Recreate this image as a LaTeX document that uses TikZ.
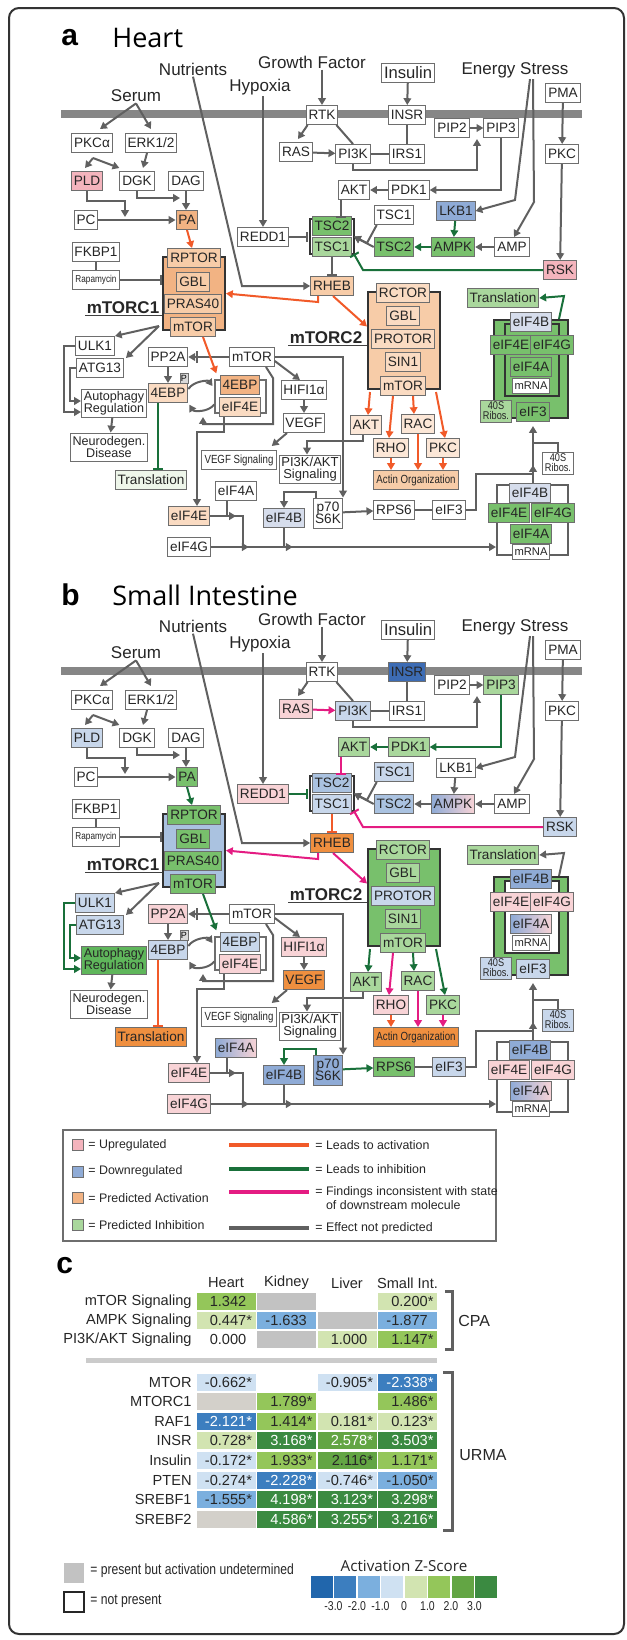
\documentclass[tikz,border=0pt]{standalone}
\usepackage{fontspec}
\setmainfont{Liberation Sans}
\newfontfamily\titlefont{Open Sans}
\newfontfamily\narrowfont{Liberation Sans}[FakeStretch=0.82]
\usetikzlibrary{arrows.meta,calc}
% node fills
\definecolor{upA}{HTML}{F4B4BD}
\definecolor{upL}{HTML}{F8D3D6}
\definecolor{dnD}{HTML}{3D6CB4}
\definecolor{dnM}{HTML}{8FABD6}
\definecolor{dnLM}{HTML}{AAC2E0}
\definecolor{dnL}{HTML}{C8D7EB}
\definecolor{gbl}{HTML}{D6DDEC}
\definecolor{acD}{HTML}{EF8F3F}
\definecolor{acM}{HTML}{F2B383}
\definecolor{acL}{HTML}{F7CCA8}
\definecolor{acLL}{HTML}{FADBC2}
\definecolor{acLLL}{HTML}{FCE7D7}
\definecolor{inD}{HTML}{5FB65B}
\definecolor{inM}{HTML}{78C06C}
\definecolor{inL}{HTML}{A9D79C}
\definecolor{inLL}{HTML}{EEF6EA}
% connectors
\definecolor{lnorange}{HTML}{F15A29}
\definecolor{lngreen}{HTML}{19703A}
\definecolor{lnpink}{HTML}{E41C82}
\definecolor{lngray}{HTML}{606060}
\definecolor{boxgray}{HTML}{6E6E6E}
\definecolor{membr}{HTML}{868686}
% z-score scale
\definecolor{zmthree}{HTML}{2166AC}
\definecolor{zmtwo}{HTML}{3C7EBF}
\definecolor{zmone}{HTML}{7BAFDE}
\definecolor{zzero}{HTML}{CFE1F2}
\definecolor{zone}{HTML}{D2E4B1}
\definecolor{ztwo}{HTML}{94C65A}
\definecolor{zthree}{HTML}{63A544}
\definecolor{zfour}{HTML}{3B8A41}
\definecolor{ndet}{HTML}{C2C2C2}
\definecolor{ndetb}{HTML}{D3D0CA}

\begin{document}
\begin{tikzpicture}[
	x = 0.5pt, y = -0.5pt,
	ab/.code 2 args = {\ifnum\panel=1\relax\pgfkeysalso{#1}\else\pgfkeysalso{#2}\fi},
	box/.style = {draw = boxgray, line width = 0.5pt, fill = white, text = black!85,
		inner xsep = 1.2pt, inner ysep = 0.6pt, minimum height = 9.5pt,
		font = \fontsize{6.8}{6.6}\selectfont},
	sbox/.style = {box, inner xsep = 1.4pt, font = \narrowfont\fontsize{5.9}{6}\selectfont},
	tbox/.style = {box, align = center, minimum height = 14pt, font = \fontsize{6.3}{6.2}\selectfont},
	mbox/.style = {box, minimum height = 7.5pt, inner ysep = 0pt, font = \fontsize{5.6}{6}\selectfont},
	rbox/.style = {box, align = center, minimum height = 11pt, inner xsep = 1pt, inner ysep = 0.3pt,
		font = \narrowfont\fontsize{5.6}{5}\selectfont},
	pbox/.style = {draw = boxgray, fill = gray!30, line width = 0.4pt, inner sep = 0pt,
		minimum width = 4pt, minimum height = 5pt, font = \fontsize{4.5}{5}\selectfont},
	cplx/.style = {rectangle, draw = black!80, line width = 1pt, inner sep = 0pt},
	brk/.style = {line width = 1.1pt, draw = black!80},
	lbl/.style = {inner sep = 0.5pt, text = black!85, font = \fontsize{8.5}{9}\selectfont},
	clbl/.style = {inner sep = 0.5pt, text = black!85, font = \bfseries\fontsize{8.5}{9}\selectfont},
	ul/.style = {line width = 0.8pt, draw = black!75},
	ttl/.style = {inner sep = 0pt, font = \titlefont\fontsize{13.5}{14}\selectfont},
	tagf/.style = {inner sep = 0pt, font = \bfseries\fontsize{15}{16}\selectfont},
	membrane/.style = {line width = 4pt, draw = membr},
	% fills
	fuA/.style = {fill = upA}, fuL/.style = {fill = upL},
	fdD/.style = {fill = dnD}, fdM/.style = {fill = dnM}, fdLM/.style = {fill = dnLM}, fdL/.style = {fill = dnL},
	fgb/.style = {fill = gbl}, fgr/.style = {left color = dnM, right color = upL},
	faD/.style = {fill = acD}, faM/.style = {fill = acM}, faL/.style = {fill = acL},
	faLL/.style = {fill = acLL}, faLLL/.style = {fill = acLLL},
	fiD/.style = {fill = inD}, fiM/.style = {fill = inM}, fiL/.style = {fill = inL}, fiLL/.style = {fill = inLL},
	% connectors
	ln/.style = {draw = lngray, line width = 1pt},
	arr/.style = {ln, -{Triangle[length = 3.4pt, width = 3.8pt]}},
	inh/.style = {ln, -{Bar[width = 5pt]}},
	cA/.style = {draw = lnorange}, cI/.style = {draw = lngreen}, cF/.style = {draw = lnpink},
	% legend and table
	ltxt/.style = {inner sep = 0.5pt, text = black!85, align = left, font = \fontsize{6.2}{7}\selectfont},
	lsq/.style = {draw = boxgray, line width = 0.5pt, minimum size = 5.5pt, inner sep = 0pt},
	ctxt/.style = {inner sep = 0.5pt, text = black!85, font = \fontsize{7.3}{8}\selectfont},
	cell/.style = {minimum width = 29.5pt, minimum height = 8.5pt, inner xsep = 1.75pt, inner ysep = 0pt,
		text width = 26pt, align = right, text = black!85, font = \fontsize{7.3}{8}\selectfont},
	zm2/.style = {fill = zmtwo, text = white}, zm1/.style = {fill = zmone}, z0/.style = {fill = zzero},
	z1/.style = {fill = zone}, z2/.style = {fill = ztwo}, z3/.style = {fill = zthree},
	z3w/.style = {fill = zthree, text = white}, z4/.style = {fill = zfour, text = white},
	zn/.style = {fill = ndet}, zb/.style = {fill = ndetb}, zw/.style = {},
	frame/.style = {draw = black!80, line width = 1pt, rounded corners = 5pt}
	]
	\useasboundingbox (0,0) rectangle (627,1640);
	\draw[frame] (9,8) rectangle (624,1634);
	
	\foreach \panel/\dy/\ttl/\plbl in {1/0/Heart/a, 2/557/Small Intestine/b}{
	\begin{scope}[shift = {(0,\dy)}, name prefix = p\panel-]
	\node[tagf, anchor = west] (tag) at (61,38) {\plbl};
	\node[ttl, anchor = west] (title) at (112,38) {\ttl};
	\draw[membrane] (61,114) -- (582,114);
	
	% inputs
	\node[lbl] (Nutr) at (193,69) {Nutrients};
	\node[lbl] (GF) at (312,62) {Growth Factor};
	\node[lbl] (Hyp) at (260,87) {Hypoxia};
	\node[lbl] (Serum) at (136,96) {Serum};
	\node[lbl] (ES) at (515,70) {Energy Stress};
	\node[box, font = \fontsize{8.3}{9}\selectfont] (Ins) at (408,73) {Insulin};
	\node[box] (PMA) at (563,93) {PMA};
	
	% upstream
	\node[box] (RTK) at (322,115) {RTK};
	\node[box, ab = {}{fdD}] (INSR) at (407,115) {INSR};
	\node[box] (PIP2) at (452,128) {PIP2};
	\node[box, ab = {}{fiL}] (PIP3) at (501,128) {PIP3};
	\node[box, ab = {}{fuL}] (RAS) at (296,152) {RAS};
	\node[box, ab = {}{fdL}] (PI3K) at (353,154) {PI3K};
	\node[box] (IRS1) at (407,154) {IRS1};
	\node[box] (PKC) at (562,154) {PKC};
	\node[box] (PKCa) at (92,143) {PKCα};
	\node[box] (ERK) at (151,143) {ERK1/2};
	\node[box, ab = {fuA}{fdL}] (PLD) at (87,181) {PLD};
	\node[box] (DGK) at (137,181) {DGK};
	\node[box] (DAG) at (186,181) {DAG};
	\node[box] (PC) at (86,220) {PC};
	\node[box, ab = {faM}{fiM}] (PA) at (187,220) {PA};
	\node[box] (FKBP1) at (96,252) {FKBP1};
	\node[sbox, font = \narrowfont\fontsize{5}{6}\selectfont] (Rapa) at (96,280) {Rapamycin};
	\node[box, ab = {}{fuL}] (REDD1) at (263,237) {REDD1};
	
	% TSC complex
	\node[inner sep = 0pt, minimum width = 21.5pt, minimum height = 17pt] (TSCc) at (332,236.5) {};
	\draw[brk] ([xshift = 2pt]TSCc.north west) -- (TSCc.north west) -- (TSCc.south west) -- ++(2pt,0);
	\draw[brk] ([xshift = -2pt]TSCc.north east) -- (TSCc.north east) -- (TSCc.south east) -- ++(-2pt,0);
	\node[box, ab = {fiM}{fdLM}] (cTSC2) at (332,226) {TSC2};
	\node[box, ab = {fiL}{fdL}] (cTSC1) at (332,247) {TSC1};
	
	\node[box, ab = {}{fiL}] (AKT) at (354,190) {AKT};
	\node[box, ab = {}{fiL}] (PDK1) at (409,190) {PDK1};
	\node[box, ab = {}{fdL}] (TSC1s) at (394,215) {TSC1};
	\node[box, ab = {fdM}{}] (LKB1) at (456,211) {LKB1};
	\node[box, ab = {fiM}{fdLM}] (TSC2s) at (394,247) {TSC2};
	\node[box, ab = {fiM}{fgr}] (AMPK) at (453,247) {AMPK};
	\node[box] (AMP) at (512,247) {AMP};
	\node[box, ab = {fuA}{fdL}] (RSK) at (560,270) {RSK};
	\node[box, ab = {faL}{faD}] (RHEB) at (332,286) {RHEB};
	
	% mTORC1
	\node[cplx, ab = {faM}{fdLM}, minimum width = 31pt, minimum height = 36.5pt] (C1) at (194,293.5) {};
	\node[box, ab = {faL}{fiM}] (RPTOR) at (194,258) {RPTOR};
	\node[box, ab = {faL}{fiM}] (GBL1) at (193,282) {GBL};
	\node[box, ab = {faL}{fiM}] (PRAS40) at (193,304) {PRAS40};
	\node[box, ab = {faL}{fiM}] (mTOR1) at (193,327) {mTOR};
	\node[clbl] (C1lbl) at (123,308) {mTORC1};
	\draw[ul] (C1lbl.south west) -- (C1lbl.south west -| C1.west);
	
	% mTORC2
	\node[cplx, ab = {faL}{fiM}, minimum width = 36pt, minimum height = 48.5pt] (C2) at (404,340.5) {};
	\node[box, ab = {faLL}{fiL}] (RCTOR) at (403,293) {RCTOR};
	\node[box, ab = {faLL}{fiL}] (GBL2) at (403,316) {GBL};
	\node[box, ab = {faLL}{fdL}] (PROTOR) at (403,339) {PROTOR};
	\node[box, ab = {faLL}{fiL}] (SIN1) at (403,362) {SIN1};
	\node[box, ab = {faLL}{fiL}] (mTOR2) at (403,386) {mTOR};
	\node[clbl] (C2lbl) at (326,338) {mTORC2};
	\draw[ul] (C2lbl.south west) -- (C2lbl.south west -| C2.west);
	
	% translation complex, top right
	\node[box, fiL] (TransR) at (503,298) {Translation};
	\node[cplx, fiM, minimum width = 37pt, minimum height = 49pt] (OC) at (531,369) {};
	\node[cplx, line width = 1.3pt, ab = {fiM}{fill = white}, minimum width = 27pt, minimum height = 36pt] (IC) at (532,360) {};
	\node[box, ab = {fgb}{fdM}] (tB) at (531,322) {eIF4B};
	\node[box, ab = {fiM}{fuL}] (tE) at (511,345) {eIF4E};
	\node[box, ab = {fiM}{fuL}] (tG) at (552,345) {eIF4G};
	\node[box, ab = {fiM}{fgr}] (tA) at (531,367) {eIF4A};
	\node[mbox] (tm) at (531,386) {mRNA};
	\node[rbox, ab = {fiL}{fdL}] (tR) at (496,411) {40S\\Ribos.};
	\node[box, ab = {fiM}{fdL}] (t3) at (533,412) {eIF3};
	
	% mTORC2 targets
	\node[box, ab = {faLLL}{fiL}] (AKT2) at (366,425) {AKT};
	\node[box, ab = {faLLL}{fiL}] (RAC) at (418,424) {RAC};
	\node[box, ab = {faLLL}{fuL}] (RHO) at (391,448) {RHO};
	\node[box, ab = {faLLL}{fiL}] (PKC2) at (443,448) {PKC};
	\node[sbox, ab = {faL}{faD}] (Actin) at (416,480) {Actin Organization};
	
	% lower right
	\node[rbox, ab = {}{fdL}] (Rib2) at (558,463) {40S\\Ribos.};
	\node[box, ab = {}{fiM}] (RPS6) at (394,510) {RPS6};
	\node[box, ab = {}{fdL}] (eIF3) at (449,510) {eIF3};
	\node[tbox, font = \fontsize{6.8}{6.3}\selectfont, minimum height = 15pt, inner xsep = 0.8pt, ab = {}{fdM}] (p70) at (328,513) {p70\\S6K};
	\node[cplx, draw = lngray, minimum width = 35.5pt, minimum height = 35pt] (LC) at (532.5,520) {};
	\node[box, ab = {fgb}{fdM}] (lB) at (530,493) {eIF4B};
	\node[box, ab = {fiM}{fuL}] (lE) at (509,513) {eIF4E};
	\node[box, ab = {fiM}{fuL}] (lG) at (553,513) {eIF4G};
	\node[box, ab = {fiM}{fgr}] (lA) at (531,534) {eIF4A};
	\node[mbox] (lm) at (531,552) {mRNA};
	
	% left side
	\node[box, ab = {}{fdL}] (ULK1) at (95,346) {ULK1};
	\node[box, ab = {}{fdL}] (ATG13) at (100,368) {ATG13};
	\node[tbox, ab = {}{fiD}] (Auto) at (114,403) {Autophagy\\Regulation};
	\node[tbox] (Neuro) at (109,447) {Neurodegen.\\Disease};
	\node[box, ab = {}{fuL}] (PP2A) at (168,357) {PP2A};
	\node[box, ab = {faLL}{fdL}] (EBP) at (168,393) {4EBP};
	\node[pbox] (Pm) at (184,378) {P};
	\node[cplx, draw = boxgray, line width = 0.7pt, fill = white, minimum width = 25.5pt, minimum height = 16.5pt] (cfr) at (240.5,396.5) {};
	\node[box, ab = {faM}{fdL}] (cEBP) at (240,385) {4EBP};
	\node[box, ab = {faLL}{fuL}] (cEIFE) at (240,407) {eIF4E};
	\node[box] (mTORm) at (252,357) {mTOR};
	\node[box, ab = {}{fuL}] (HIF) at (304,390) {HIFI1α};
	\node[box, ab = {}{faD}] (VEGF) at (304,423) {VEGF};
	\node[sbox] (VEGFsig) at (239,460) {VEGF Signaling};
	\node[tbox, font = \fontsize{6.5}{6.3}\selectfont, inner xsep = 0.8pt] (PIAKT) at (310,469) {PI3K/AKT\\Signaling};
	\node[box, ab = {fiLL}{faD}] (TransL) at (151,480) {Translation};
	\node[box, ab = {}{fgr}] (eIFA) at (236,491) {eIF4A};
	\node[box, ab = {faLL}{fuL}] (eIFE) at (189,516) {eIF4E};
	\node[box, ab = {fgb}{fdM}] (eIFB) at (284,518) {eIF4B};
	\node[box, ab = {}{fuL}] (eIFG) at (189,547) {eIF4G};
	
	% connectors, serum branch
	\draw[arr] (Serum.south) -- ([shift = {(4pt,2pt)}]PKCa.north);
	\draw[arr] (Serum.south) -- ([yshift = 2pt]ERK.north);
	\draw[arr] (PKCa.south) ++(1,5) -- ([shift = {(-1pt,1.5pt)}]PLD.north);
	\draw[arr] (PKCa.south) ++(1,5) -- ([yshift = 1.5pt]DGK.north west);
	\draw[arr] ([xshift = -2pt]ERK.south) -- ([shift = {(3pt,1.5pt)}]DGK.north);
	\coordinate (jPC) at (125,217);
	\draw[arr] (PLD.south) |- (125,201) -- (jPC);
	\draw[arr] (PC) -- (PA);
	\coordinate (jDA) at (180,198);
	\draw[arr] (DGK.south) |- (jDA);
	\draw[arr] (DAG.south) -- (DAG.south |- PA.north);
	\draw[arr, ab = {cA}{cI}] (PA.south) -- ([xshift = -1pt]RPTOR.north);
	\draw[ln] (FKBP1) -- (Rapa);
	\draw[inh] (Rapa) -- (Rapa -| C1.west);
	
	% growth factor, insulin, hypoxia
	\draw[arr] (Nutr.south) -- (242,286) -- (RHEB.west);
	\draw[arr] (Hyp.south -| REDD1.north) -- (REDD1.north);
	\draw[inh, ab = {}{cI}, shorten > = 1pt] (REDD1) -- (REDD1 -| TSCc.west);
	\draw[arr] (GF.south -| RTK.north) -- (RTK.north);
	\draw[arr] (Ins) -- (INSR);
	\draw[arr] ([xshift = 1pt]RTK.south west) -- ([shift = {(1pt,1.5pt)}]RAS.north);
	\draw[ln] ([xshift = -1pt]RTK.south east) -- (PI3K.north);
	\draw[arr, ab = {}{cF}] (RAS) -- (PI3K);
	\draw[ln] (INSR) -- (IRS1);
	\draw[ln] (PI3K) -- (IRS1);
	\draw[arr] (PIP2) -- (PIP3);
	\coordinate (jPIP) at (477,139);
	\draw[arr] (PI3K.south) |- (477,170) -- (jPIP);
	\draw[arr, ab = {}{cI}] (PIP3.south) |- (PDK1.east);
	\draw[arr, ab = {}{cI}] (PDK1) -- (AKT);
	\draw[inh, ab = {}{cF}] (AKT.south) ++(-13,0) -- ++(0,18);
	
	% TSC inputs
	\draw[arr] (TSC1s.south west) ++(3,0) -- (367,243) -- (TSCc.east);
	\draw[arr] (TSC2s.west) -- (TSCc.east);
	\draw[arr, ab = {cI}{}] (AMPK) -- (TSC2s);
	\draw[arr, ab = {cI}{}] (LKB1) -- (AMPK);
	\draw[arr] (AMP) -- (AMPK);
	\draw[arr] ([xshift = 7.5pt]ES.south) -- (515,200) -- (LKB1.east);
	\draw[arr] ([xshift = 9pt]ES.south) -- (534,202) -- ([xshift = 1pt]AMP.north);
	\draw[arr] (PMA) -- (PKC);
	\draw[arr] (PKC) -- (RSK);
	\draw[inh, ab = {cI}{cF}] (RSK.west) -- (363,270) -- (TSCc.south east);
	\draw[inh, ab = {}{cA}] (cTSC1.south) -- (RHEB.north);
	\draw[arr, ab = {cA}{cF}] ([xshift = -7pt]RHEB.south) -- ++(0,6) -- (C1.east);
	\draw[arr, ab = {cA}{cF}] ([xshift = 0.5pt]RHEB.south) -- ([yshift = 7pt]C2.west);
	
	% mTORC1 targets
	\draw[arr] (C1.south west) ++(-3,-5) -- (ULK1.north east);
	\draw[arr] (C1.south west) ++(-3,-5) -- ([xshift = 1pt]ATG13.north east);
	\draw[arr, ab = {}{cI}] (ULK1.west) -- ++(-11,0) |- ([yshift = -4.5pt]Auto.west);
	\draw[arr, ab = {}{cI}] (ATG13.west) -- ++(-6,0) |- ([yshift = 1pt]Auto.west);
	\draw[arr] (Auto) -- (Neuro);
	\draw[ln, -{Bar[width = 6pt, sep = 0.3pt]Triangle[length = 3.4pt, width = 3.8pt]}] (mTORm) -- (PP2A);
	\draw[arr] (PP2A) -- (EBP);
	\draw[arr, ab = {cA}{cI}] ([xshift = 5pt]mTOR1.south) -- ([shift = {(1pt,3pt)}]cfr.north west);
	\draw[arr, shorten > = 1.5pt] ([yshift = 2pt]EBP.east) to[bend left = 55] ([yshift = 4pt]cfr.west);
	\draw[arr, shorten > = 1pt] ([yshift = -4pt]cfr.west) to[bend left = 55] ([yshift = -5pt]EBP.east);
	\draw[inh, ab = {cI}{cA}] (EBP.south) ++(-10,0) -- ++(0,67);
	\coordinate (jCX) at (203,417);
	\draw[arr] ([xshift = 7pt]mTORm.south) -- (273,378) -- (273,424) -| (jCX);
	\draw[arr] ([xshift = -8pt]cEIFE.south) -- ++(0,15) -| ([xshift = 4pt]eIFE.north);
	\draw[arr] ([yshift = -2pt]mTORm.east) -- ([xshift = -2pt]HIF.north);
	\draw[arr] (mTORm.east) -| ([xshift = 7.5pt]p70.north);
	\draw[arr] (HIF) -- (VEGF);
	\draw[arr] ([xshift = -8.5pt]VEGF.south) -- ([shift = {(-2.5pt,2pt)}]VEGFsig.north east);
	
	% mTORC2 targets
	\draw[arr] ([xshift = -1.5pt]AKT2.south) -- ++(0,6) -| ([xshift = -1.5pt]PIAKT.north);
	\draw[arr, ab = {cA}{cI}] (C2.south west) ++(3,2) -- ([xshift = 1pt]AKT2.north);
	\draw[arr, ab = {cA}{cF}] ([xshift = -5pt]mTOR2.south) -- ([xshift = -1pt]RHO.north);
	\draw[arr, ab = {cA}{cI}] ([xshift = 5pt]mTOR2.south) -- ([xshift = -2pt]RAC.north);
	\draw[arr, ab = {cA}{cI}] (C2.south east) ++(-5,2) -- ([xshift = 1pt]PKC2.north);
	\draw[arr, cA] (RHO) -- (RHO |- Actin.north);
	\draw[arr, ab = {cA}{cF}] (RAC) -- (RAC |- Actin.north);
	\draw[arr, ab = {cA}{cF}] (PKC2) -- (PKC2 |- Actin.north);
	
	% initiation factors
	\coordinate (jG) at (243,547);
	\draw[ln] (eIFE.east) -| (jG);
	\draw[arr] (eIFE.east) -- ++(26,0);
	\draw[ln] (eIFA.south) ++(-9,0) -- ++(0,16);
	\draw[arr] (eIFG.east) -- (LC.west |- eIFG.east);
	\draw[arr] (eIFG.east) -- ++(38,0);
	\draw[arr] (eIFG.east) -- ++(82,0);
	\draw[ln] (eIFB.south) -- (eIFB.south |- eIFG.east);
	\draw[arr, ab = {}{cI}] ([xshift = -6pt]p70.north) -- ++(0,-6) -| (eIFB.north);
	\draw[arr, ab = {}{cI}] (p70) -- (RPS6);
	\draw[ln] (RPS6) -- (eIF3);
	\draw[ln] (eIF3.east) -- ++(10,0) |- ($(lB.north -| t3.south)+(0,-9)$);
	\draw[arr] (lB.north -| t3.south) -- ++(0,-18);
	\draw[arr, shorten > = 2pt] (lB.north -| t3.south) -- (t3.south);
	\draw[ln] (Rib2.north) |- ($(t3.south)+(0,21)$);
	\draw[arr, ab = {cI}{}] ([xshift = -5pt]OC.north east) -- ++(5,-23) -- (TransR.east);
	\end{scope}
	}
	
	% legend
	\node[draw = boxgray, line width = 0.6pt, minimum width = 216.5pt, minimum height = 55.5pt] (legend) at (279.5,1185.5) {};
	\foreach \f/\t [count = \i from 0] in {fuA/Upregulated, fdM/Downregulated, faM/Predicted Activation, fiL/Predicted Inhibition}{
		\node[lsq, \f] (sq\i) at (78,{1145+26.7*\i}) {};
		\node[ltxt, anchor = west] (sqt\i) at (87,{1145+26.7*\i}) {= \t};
	}
	\foreach \c/\ly/\ty/\t [count = \i] in {lnorange/1145/1145/Leads to activation,
		lngreen/1169/1169/Leads to inhibition,
		lnpink/1192/1198/{Findings inconsistent with state\\\phantom{= }of downstream molecule},
		lngray/1228/1228/Effect not predicted}{
		\draw[draw = \c, line width = 1.8pt] (229,\ly) -- (309,\ly);
		\node[ltxt, anchor = west] (lnt\i) at (314,\ty) {= \t};
	}
	
	% panel c
	\node[tagf, anchor = west] (ctag) at (56,1266) {c};
	\foreach \h [count = \i from 0] in {Heart, Kidney, Liver, Small Int.}
		\node[ctxt] (hd\i) at ({226+60.5*\i},1283) {\h};
	\foreach \ry/\lab/\cells [count = \r] in {
		1301.5/mTOR Signaling/{z2/1.342\phantom{*}, zn/{}, zw/{}, z1/0.200*},
		1320.5/AMPK Signaling/{z1/0.447*, zm1/-1.633\phantom{*}, zn/{}, zm1/-1.877\phantom{*}},
		1339.5/{PI3K/AKT Signaling}/{zw/0.000\phantom{*}, zn/{}, z1/1.000\phantom{*}, z2/1.147*},
		1382/MTOR/{z0/-0.662*, zw/{}, z0/-0.905*, zm2/-2.338*},
		1401.6/MTORC1/{zb/{}, z2/1.789*, zw/{}, z2/1.486*},
		1421.2/RAF1/{zm2/-2.121*, z2/1.414*, z1/0.181*, z1/0.123*},
		1440.8/INSR/{z1/0.728*, z4/3.168*, z3w/2.578*, z4/3.503*},
		1460.4/Insulin/{z0/-0.172*, z2/1.933*, z3/2.116*, z2/1.171*},
		1480/PTEN/{z0/-0.274*, zm2/-2.228*, z0/-0.746*, zm1/-1.050*},
		1499.6/SREBF1/{zm1/-1.555*, z4/4.198*, z4/3.123*, z4/3.298*},
		1519.2/SREBF2/{zb/{}, z4/4.586*, z4/3.255*, z4/3.216*}}{
		\node[ctxt, anchor = east] (lab\r) at (193,\ry) {\lab};
		\foreach \s/\v [count = \i from 0] in \cells
			\node[cell, \s] (cell\r-\i) at ({226+60.5*\i},\ry) {\v};
	}
	\draw[draw = ndet!85, line width = 2.6pt] (86,1360.5) -- (437,1360.5);
	\draw[draw = lngray, line width = 1.5pt] (445,1291) -- (452,1291) -- (452,1349) -- (445,1349);
	\node[ctxt, anchor = west, font = \fontsize{8}{9}\selectfont] (cpa) at (457,1321) {CPA};
	\draw[draw = lngray, line width = 1.5pt] (443,1372) -- (452,1372) -- (452,1530) -- (443,1530);
	\node[ctxt, anchor = west, font = \fontsize{8}{9}\selectfont] (urma) at (458,1455) {URMA};
	
	% bottom legend
	\node[fill = ndet, minimum size = 10pt, inner sep = 0pt] (undsq) at (74,1572.5) {};
	\node[draw = black!85, line width = 1pt, minimum size = 10pt, inner sep = 0pt] (npsq) at (74,1602) {};
	\node[ctxt, anchor = west, font = \narrowfont\fontsize{7.4}{8}\selectfont] (undt) at (89,1571) {= present but activation undetermined};
	\node[ctxt, anchor = west, font = \narrowfont\fontsize{7.4}{8}\selectfont] (npt) at (89,1601) {= not present};
	\node[ctxt, font = \titlefont\fontsize{7.6}{8}\selectfont] (ztl) at (404,1566) {Activation Z-Score};
	\foreach \c [count = \i from 0] in {zmthree, zmtwo, zmone, zzero, zone, ztwo, zthree, zfour}
		\node[fill = \c, minimum width = 11pt, minimum height = 11pt, inner sep = 0pt] (zs\i) at ({321.75+23.5*\i},1587) {};
	\foreach \t [count = \i] in {-3.0, -2.0, -1.0, 0, 1.0, 2.0, 3.0}
		\node[ctxt, font = \narrowfont\fontsize{6.4}{7}\selectfont] (zt\i) at ({310+23.5*\i},1606) {\t};
\end{tikzpicture}
\end{document}
